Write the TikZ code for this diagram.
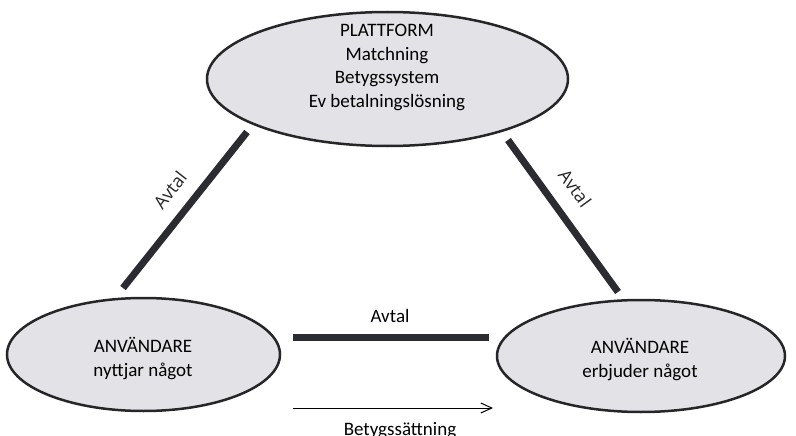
\documentclass[tikz,border=0pt]{standalone}
\usepackage{fontspec}
\setmainfont{Carlito}
\newfontfamily\labelfont{Open Sans}
\usetikzlibrary{shapes.geometric,arrows.meta}
\definecolor{ovalfill}{RGB}{227,227,231}
\definecolor{ovalline}{RGB}{38,38,40}
\definecolor{barcol}{RGB}{43,43,50}
\tikzset{
  oval/.style={ellipse, draw=ovalline, line width=2.5pt, fill=ovalfill, inner sep=0pt},
  ovaltext/.style={align=center, font=\fontsize{19}{23.5}\selectfont, anchor=base},
  bar/.style={line width=7pt, draw=barcol},
  avtal/.style={font=\labelfont\fontsize{18}{20}\selectfont, text=black!85}
}
\begin{document}
\begin{tikzpicture}[x=1pt, y=-1pt]
  \useasboundingbox (0,0) rectangle (796,436);
  % Ellipses
  \node[oval, minimum width=361pt, minimum height=134pt] (plattform) at (387.5,79) {};
  \node[oval, minimum width=273pt, minimum height=113pt] (nyttjar) at (143.5,354.5) {};
  \node[oval, minimum width=288pt, minimum height=112pt] (erbjuder) at (641,356) {};
  % base anchor sits on the last line
  \node[ovaltext] (plattformtext) at (387,107) {PLATTFORM\\Matchning\\Betygssystem\\Ev betalningslösning};
  \node[ovaltext] (nyttjartext) at (143,376) {ANVÄNDARE\\nyttjar något};
  \node[ovaltext] (erbjudertext) at (640,377) {ANVÄNDARE\\erbjuder något};
  % Bars between the parties
  \coordinate (lt) at (247,132);
  \coordinate (lb) at (123,288);
  \coordinate (rt) at (508,140);
  \coordinate (rb) at (618,292);
  \coordinate (ml) at (293,337);
  \coordinate (mr) at (489,337);
  \draw[bar] (lt) -- (lb);
  \draw[bar] (rt) -- (rb);
  \draw[bar] (ml) -- (mr);
  \node[avtal, rotate=52] (avtalleft) at (170,190) {Avtal};
  \node[avtal, rotate=-54] (avtalright) at (575,188) {Avtal};
  \node[ovaltext] (avtalmid) at (390,322) {Avtal};
  % Rating arrow
  \coordinate (al) at (293,408);
  \coordinate (ar) at (493,408);
  \draw[line width=1pt, -{Straight Barb[length=11pt, width=10pt]}] (al) -- (ar);
  \node[ovaltext] (betyg) at (400,435) {Betygssättning};
\end{tikzpicture}
\end{document}
